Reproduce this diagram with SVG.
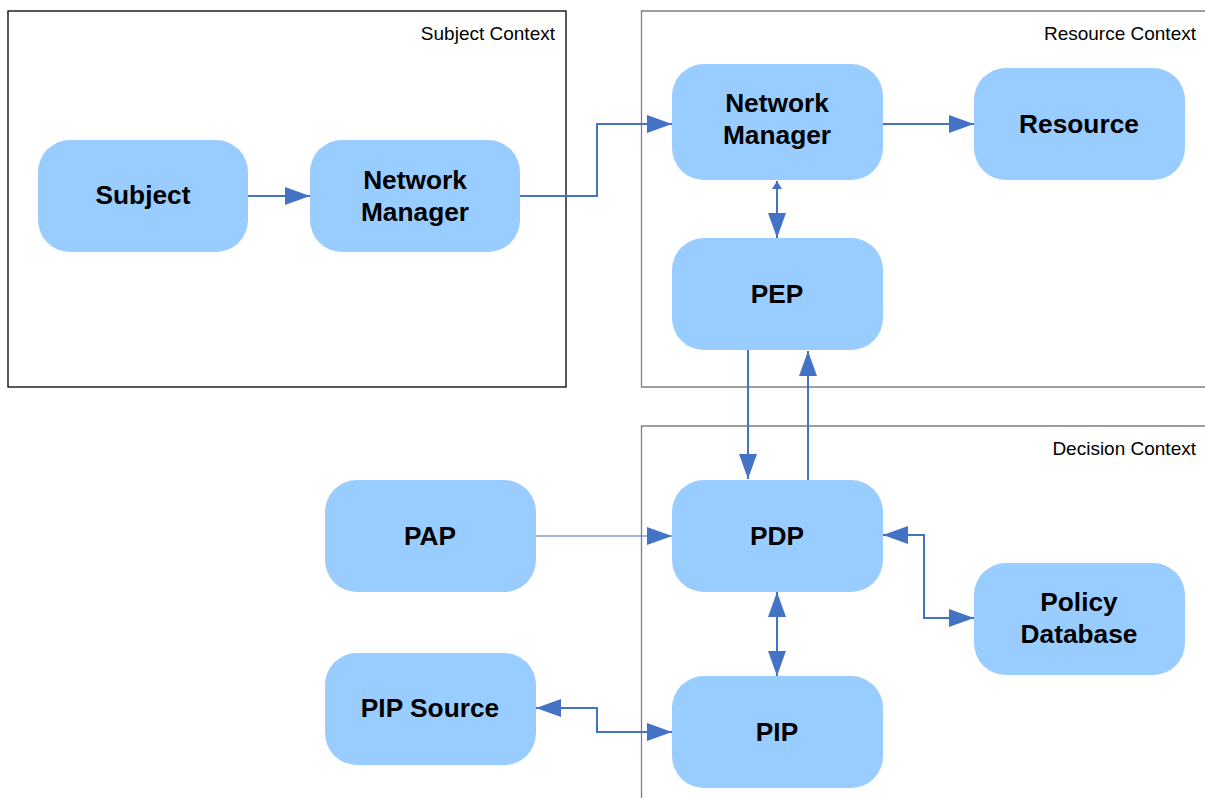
<svg xmlns="http://www.w3.org/2000/svg" width="1205" height="798" viewBox="0 0 1205 798">
<defs>
<style>
.ctx{fill:none;stroke-width:1.3}
.ctxl{font-family:"Liberation Sans",Arial,sans-serif;font-size:19px;fill:#000}
.node rect{fill:#99CCFF;stroke:none}
.node text{font-family:"Liberation Sans",Arial,sans-serif;font-size:26.3px;font-weight:bold;fill:#000;text-anchor:middle}
.c{fill:none;stroke:#4472C4;stroke-width:2}
.thin{stroke-width:1.2}
</style>
<marker id="ah" viewBox="0 0 25 18" refX="25" refY="9" markerWidth="25" markerHeight="18" markerUnits="userSpaceOnUse" orient="auto-start-reverse"><path d="M0,0L25,9L0,18Z" fill="#4472C4"/></marker>
<marker id="ahs" viewBox="0 0 8 10" refX="8" refY="5" markerWidth="8" markerHeight="10" markerUnits="userSpaceOnUse" orient="auto-start-reverse"><path d="M0,0L8,5L0,10Z" fill="#4472C4"/></marker>
</defs>
<rect width="1205" height="798" fill="#fff"/>
<g id="contexts">
<rect class="ctx" x="8" y="11" width="558" height="376" stroke="#000"/>
<text class="ctxl" x="555" y="40" text-anchor="end">Subject Context</text>
<path class="ctx" d="M1206,11H641.5V387H1206" stroke="#7f7f7f"/>
<text class="ctxl" x="1196" y="40" text-anchor="end">Resource Context</text>
<path class="ctx" d="M1206,426H641.5V799" stroke="#7f7f7f"/>
<text class="ctxl" x="1196" y="455" text-anchor="end">Decision Context</text>
</g>
<g id="connectors">
<path class="c" d="M248,196H310" marker-end="url(#ah)"/>
<path class="c" d="M520,196H597V124H672" marker-end="url(#ah)"/>
<path class="c" d="M883,124H974" marker-end="url(#ah)"/>
<path class="c" d="M777,181V238" marker-start="url(#ahs)" marker-end="url(#ah)"/>
<path class="c" d="M748,350V479" marker-end="url(#ah)"/>
<path class="c" d="M808,480V351" marker-end="url(#ah)"/>
<path class="c thin" d="M536,536H672" marker-end="url(#ah)"/>
<path class="c" d="M883,535H924V618H974" marker-start="url(#ah)" marker-end="url(#ah)"/>
<path class="c" d="M777,592V676" marker-start="url(#ah)" marker-end="url(#ah)"/>
<path class="c" d="M536,708H597V732H672" marker-start="url(#ah)" marker-end="url(#ah)"/>
</g>
<g id="subject" class="node"><rect x="38" y="140" width="210" height="112" rx="32"/><text x="143" y="204">Subject</text></g>
<g id="nm-left" class="node"><rect x="310" y="140" width="210" height="112" rx="32"/><text x="415" y="189">Network</text><text x="415" y="221">Manager</text></g>
<g id="nm-right" class="node"><rect x="672" y="64" width="211" height="116" rx="32"/><text x="777" y="112">Network</text><text x="777" y="144">Manager</text></g>
<g id="resource" class="node"><rect x="974" y="68" width="211" height="112" rx="32"/><text x="1079" y="133">Resource</text></g>
<g id="pep" class="node"><rect x="672" y="238" width="211" height="112" rx="32"/><text x="777" y="303">PEP</text></g>
<g id="pdp" class="node"><rect x="672" y="480" width="211" height="112" rx="32"/><text x="777" y="545">PDP</text></g>
<g id="pap" class="node"><rect x="325" y="480" width="211" height="112" rx="32"/><text x="430" y="545">PAP</text></g>
<g id="policy-db" class="node"><rect x="974" y="563" width="211" height="112" rx="32"/><text x="1079" y="611">Policy</text><text x="1079" y="643">Database</text></g>
<g id="pip-source" class="node"><rect x="325" y="653" width="211" height="112" rx="32"/><text x="430" y="717">PIP Source</text></g>
<g id="pip" class="node"><rect x="672" y="676" width="211" height="112" rx="32"/><text x="777" y="741">PIP</text></g>
</svg>
